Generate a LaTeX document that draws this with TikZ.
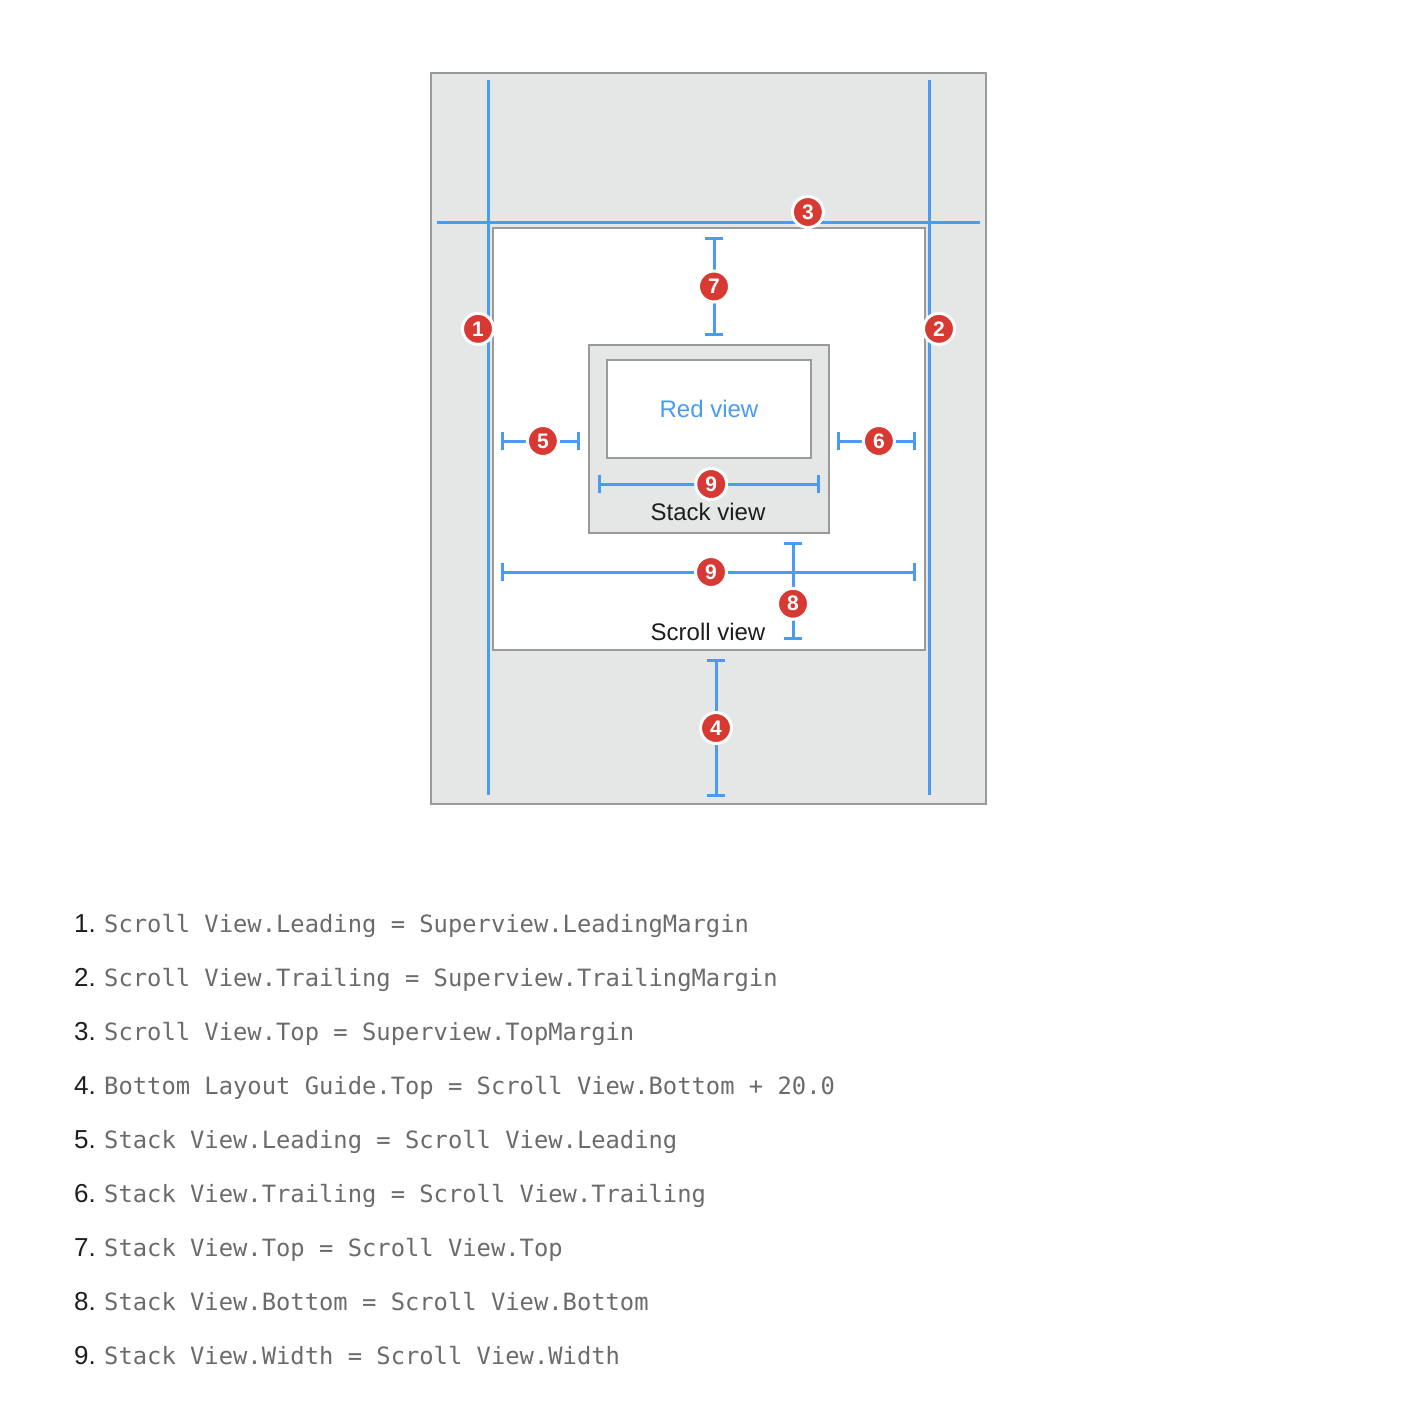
\documentclass[tikz,border=0pt]{standalone}
\usepackage{fontspec}
\setmainfont{Liberation Sans}
\newfontfamily\codefont{DejaVu Sans Mono}
\usetikzlibrary{arrows.meta}
\definecolor{Frame}{HTML}{9A9A9A}
\definecolor{Canvas}{HTML}{E5E6E6}
\definecolor{Guide}{HTML}{4A9BF5}
\definecolor{Badge}{HTML}{D63A33}
\definecolor{Code}{HTML}{6B6B6B}
\definecolor{Ink}{HTML}{1E1E1E}
\tikzset{
    viewbox/.style={rectangle, draw=Frame, line width=2.5pt, inner sep=0pt, outer sep=0pt, anchor=north west},
    guide/.style={draw=Guide, line width=3pt},
    span/.style={guide, {Bar[width=18pt]}-{Bar[width=18pt]}},
    badge/.style={circle, fill=Badge, draw=white, line width=3pt, text=white, inner sep=0pt, minimum size=31pt, font=\bfseries\fontsize{21}{21}\selectfont},
    caption/.style={text=Ink, font=\fontsize{24}{24}\selectfont},
    itemnum/.style={anchor=base east, text=Ink, inner sep=0pt, font=\fontsize{26}{26}\selectfont},
    itemcode/.style={anchor=base west, text=Code, inner sep=0pt, font=\codefont\fontsize{23.8}{24}\selectfont},
}

\begin{document}
\begin{tikzpicture}[x=1pt, y=-1pt]
    \useasboundingbox (0,0) rectangle (1408,1406);

    % Superview
    \node[viewbox, fill=Canvas, minimum width=555pt, minimum height=731pt] (super) at (431,73) {};

    % Margin guides
    \coordinate (leadtop) at (488,80);
    \coordinate (leadbot) at (488,795);
    \coordinate (trailtop) at (929,80);
    \coordinate (trailbot) at (929,795);
    \coordinate (topleft) at (437,222);
    \coordinate (topright) at (980,222);

    % Scroll view
    \node[viewbox, fill=white, minimum width=432pt, minimum height=422pt] (scroll) at (493,228) {};
    \node[caption, anchor=base] (scrolllabel) at (708,640) {Scroll view};

    % Stack view with red view
    \node[viewbox, fill=Canvas, minimum width=240pt, minimum height=188pt] (stack) at (589,345) {};
    \node[viewbox, fill=white, minimum width=204pt, minimum height=98pt] (red) at (607,360) {};
    \node[caption, text=Guide] (redlabel) at (red.center) {Red view};
    \node[caption, anchor=base] (stacklabel) at (708,520) {Stack view};

    % Constraints 1 - 3
    \draw[guide] (leadtop) -- node[badge, pos=0.348, xshift=-10pt] (c1) {1} (leadbot);
    \draw[guide] (trailtop) -- node[badge, pos=0.348, xshift=10pt] (c2) {2} (trailbot);
    \draw[guide] (topleft) -- node[badge, pos=0.683, yshift=10pt] (c3) {3} (topright);

    % Constraint 4
    \coordinate (bottoma) at (716,659);
    \coordinate (bottomb) at (716,797);
    \draw[span] (bottoma) -- node[badge] (c4) {4} (bottomb);

    % Constraints 5 and 6
    \coordinate (leada) at (501,441);
    \coordinate (leadb) at (580,441);
    \coordinate (traila) at (837,441);
    \coordinate (trailb) at (916,441);
    \draw[span] (leada) -- node[badge, pos=0.53] (c5) {5} (leadb);
    \draw[span] (traila) -- node[badge, pos=0.53] (c6) {6} (trailb);

    % Constraints 7 and 8
    \coordinate (topa) at (714,237);
    \coordinate (topb) at (714,336);
    \coordinate (bota) at (793,542);
    \coordinate (botb) at (793,640);
    \draw[span] (topa) -- node[badge] (c7) {7} (topb);

    % Constraint 9 (both widths)
    \coordinate (innera) at (598,484);
    \coordinate (innerb) at (820,484);
    \coordinate (outera) at (501,572);
    \coordinate (outerb) at (916,572);
    \draw[span] (innera) -- node[badge, pos=0.51] (c9a) {9} (innerb);
    \draw[span] (outera) -- node[badge, pos=0.506] (c9b) {9} (outerb);
    \draw[span] (bota) -- node[badge, pos=0.63] (c8) {8} (botb);

    % Constraint list
    \foreach \txt [count=\i] in {Scroll View.Leading = Superview.LeadingMargin,
        Scroll View.Trailing = Superview.TrailingMargin,
        Scroll View.Top = Superview.TopMargin,
        Bottom Layout Guide.Top = Scroll View.Bottom + 20.0,
        Stack View.Leading = Scroll View.Leading,
        Stack View.Trailing = Scroll View.Trailing,
        Stack View.Top = Scroll View.Top,
        Stack View.Bottom = Scroll View.Bottom,
        Stack View.Width = Scroll View.Width}{
        \node[itemnum] (num\i) at (96,878+54*\i) {\i.};
        \node[itemcode] (item\i) at (104,878+54*\i) {\txt};
    }
\end{tikzpicture}
\end{document}
